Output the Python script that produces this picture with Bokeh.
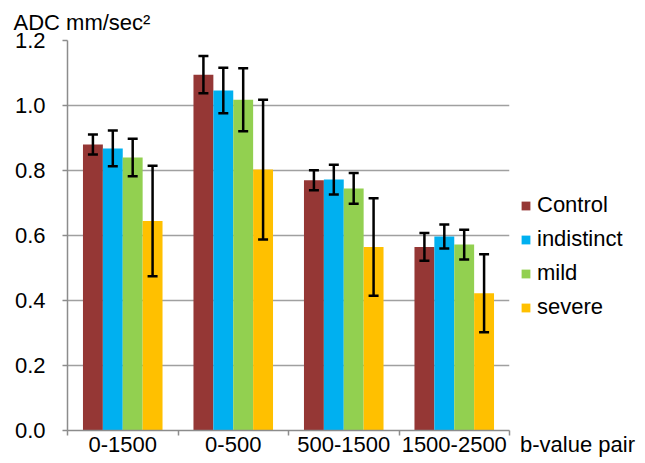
from bokeh.plotting import figure
from bokeh.models import (Range1d, LinearAxis, FixedTicker, Whisker, TeeHead, Legend,
                          LegendItem, ColumnDataSource, NumeralTickFormatter, Title)
from bokeh.embed import file_html
from bokeh.resources import INLINE

# ---- data ----
groups = ["0-1500", "0-500", "500-1500", "1500-2500"]
series = ["Control", "indistinct", "mild", "severe"]
control = [0.88, 1.095, 0.77, 0.565]
control_err = [0.031, 0.057, 0.031, 0.043]
indistinct = [0.868, 1.046, 0.772, 0.597]
indistinct_err = [0.055, 0.07, 0.046, 0.037]
mild = [0.84, 1.018, 0.745, 0.572]
mild_err = [0.058, 0.097, 0.047, 0.046]
severe = [0.645, 0.803, 0.565, 0.422]
severe_err = [0.17, 0.215, 0.15, 0.12]
y_ticks = [0.0, 0.2, 0.4, 0.6, 0.8, 1.0, 1.2]
y_title = "ADC mm/sec\u00b2"
x_title = "b-value pair"

colors = ["#953735", "#00B0F0", "#92D050", "#FFC000"]
offsets = [-0.27, -0.09, 0.09, 0.27]
FONT = "Liberation Sans"

vals = [control, indistinct, mild, severe]
errs = [control_err, indistinct_err, mild_err, severe_err]
n = len(groups)
centers = [i + 0.5 for i in range(n)]
bounds = [float(i) for i in range(n + 1)]

p = figure(x_range=Range1d(0, n), y_range=Range1d(0, 1.2),
           frame_width=442, frame_height=390,
           min_border_left=67, min_border_top=40, min_border_right=132, min_border_bottom=33,
           output_backend="svg", toolbar_location=None, x_axis_location=None)
p.outline_line_color = None
p.background_fill_color = "white"

# title above the frame
p.add_layout(Title(text=y_title, align="left", offset=-54, standoff=11,
                   text_font=FONT, text_font_size="22px", text_font_style="normal",
                   text_color="black"), "above")

# y axis
p.yaxis.ticker = FixedTicker(ticks=y_ticks)
p.yaxis.formatter = NumeralTickFormatter(format="0.0")
p.yaxis.major_label_text_font = FONT
p.yaxis.major_label_text_font_size = "22px"
p.yaxis.major_label_text_color = "black"
p.yaxis.major_label_standoff = 17
p.yaxis.major_tick_out = 5
p.yaxis.major_tick_in = 0
p.yaxis.minor_tick_line_color = None
p.yaxis.axis_line_color = "#8c8c8c"
p.yaxis.axis_line_width = 1.5
p.yaxis.major_tick_line_color = "#8c8c8c"
p.yaxis.major_tick_line_width = 1.5
p.ygrid.grid_line_color = "#a0a0a0"
p.ygrid.grid_line_width = 1.5
p.xgrid.grid_line_color = None

# x axis: labels at group centres, boundary ticks as minor ticks
x_axis = LinearAxis(ticker=FixedTicker(ticks=centers, minor_ticks=bounds),
                    major_label_overrides={c: g for c, g in zip(centers, groups)},
                    major_tick_out=0, major_tick_in=0, major_tick_line_color=None,
                    minor_tick_out=5, minor_tick_in=0,
                    minor_tick_line_color="#8c8c8c", minor_tick_line_width=1.5,
                    axis_line_color="#8c8c8c", axis_line_width=1.5,
                    major_label_standoff=1,
                    major_label_text_font=FONT, major_label_text_font_size="22px",
                    major_label_text_color="black")
p.add_layout(x_axis, "below")

items = []
for name, v, e, c, off in zip(series, vals, errs, colors, offsets):
    src = ColumnDataSource(dict(x=[cc + off for cc in centers], top=v,
                                upper=[a + b for a, b in zip(v, e)],
                                lower=[a - b for a, b in zip(v, e)]))
    r = p.vbar(x="x", top="top", width=0.18, source=src, fill_color=c, line_color=None)
    items.append(LegendItem(label=name, renderers=[r]))
    w = Whisker(source=src, base="x", upper="upper", lower="lower",
                line_color="black", line_width=2.5, level="annotation",
                upper_head=TeeHead(size=10, line_width=2.5, line_color="black"),
                lower_head=TeeHead(size=10, line_width=2.5, line_color="black"))
    p.add_layout(w)

# legend on the right; its title (below the items) carries the x-axis title
legend = Legend(items=items, location=(11, -28), orientation="vertical",
                label_text_font=FONT, label_text_font_size="22px", label_text_color="black",
                glyph_width=11, glyph_height=11, label_standoff=6, spacing=0, label_height=34,
                padding=0, margin=0, border_line_color=None, background_fill_alpha=0,
                title=x_title, title_location="below", title_standoff=108,
                title_text_font=FONT, title_text_font_size="22px",
                title_text_font_style="normal", title_text_color="black")
p.add_layout(legend, "right")

open("out.html", "w").write(file_html(p, INLINE))
